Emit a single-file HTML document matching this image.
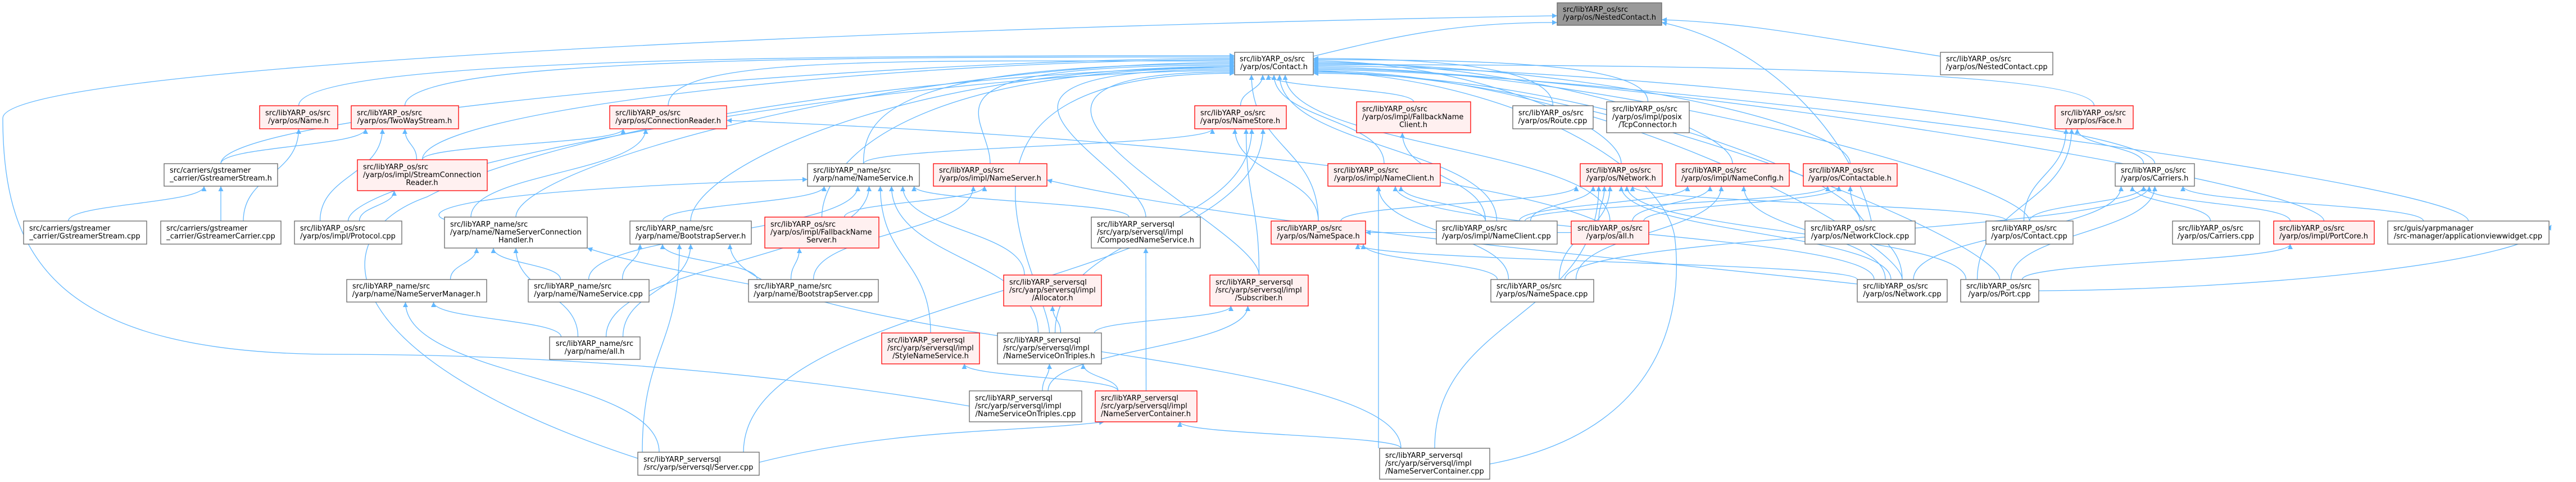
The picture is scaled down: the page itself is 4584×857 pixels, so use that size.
<!DOCTYPE html>
<html><head><meta charset="utf-8">
<style>
html,body{margin:0;padding:0;background:#fff;}
svg{display:block;}
text{font-family:"DejaVu Sans","Liberation Sans",sans-serif;font-size:13px;fill:#000;}
.w{fill:#fff;stroke:#666;stroke-width:1.3;}
.r{fill:#fff0f0;stroke:#f00;stroke-width:1.3;}
.g{fill:#999;stroke:#666;stroke-width:1.3;}
.e{fill:none;stroke:#63b8ff;stroke-width:1.3;}
</style></head><body>
<svg id="s" width="4584" height="857" viewBox="0 0 4584 857" xmlns="http://www.w3.org/2000/svg">
<defs><marker id="a" viewBox="0 0 10 10" refX="10" refY="5" markerWidth="11" markerHeight="9" markerUnits="userSpaceOnUse" orient="auto"><path d="M0,0 L10,5 L0,10 z" fill="#63b8ff"/></marker></defs>
<g id="edges"></g>
<g id="nodes">
<rect class="g" x="2771" y="5" width="186" height="40"/><text x="2781" y="21">src/libYARP_os/src</text><text x="2864" y="35" text-anchor="middle">/yarp/os/NestedContact.h</text>
<rect class="w" x="2197" y="93" width="140" height="40"/><text x="2206" y="109">src/libYARP_os/src</text><text x="2267" y="123" text-anchor="middle">/yarp/os/Contact.h</text>
<rect class="w" x="3453" y="93" width="200" height="40"/><text x="3463" y="109">src/libYARP_os/src</text><text x="3553" y="123" text-anchor="middle">/yarp/os/NestedContact.cpp</text>

<rect class="r" x="462" y="188" width="139" height="41"/><text x="472" y="205">src/libYARP_os/src</text><text x="531" y="219" text-anchor="middle">/yarp/os/Name.h</text>
<rect class="r" x="625" y="188" width="191" height="41"/><text x="635" y="205">src/libYARP_os/src</text><text x="720" y="219" text-anchor="middle">/yarp/os/TwoWayStream.h</text>
<rect class="r" x="1085" y="188" width="208" height="41"/><text x="1095" y="205">src/libYARP_os/src</text><text x="1189" y="219" text-anchor="middle">/yarp/os/ConnectionReader.h</text>
<rect class="r" x="2126" y="188" width="163" height="41"/><text x="2136" y="205">src/libYARP_os/src</text><text x="2207" y="219" text-anchor="middle">/yarp/os/NameStore.h</text>
<rect class="r" x="2414" y="181" width="203" height="55"/><text x="2424" y="198">src/libYARP_os/src</text><text x="2424" y="212">/yarp/os/impl/FallbackName</text><text x="2515" y="226" text-anchor="middle">Client.h</text>
<rect class="w" x="2692" y="188" width="143" height="41"/><text x="2702" y="205">src/libYARP_os/src</text><text x="2763" y="219" text-anchor="middle">/yarp/os/Route.cpp</text>
<rect class="w" x="2859" y="181" width="147" height="55"/><text x="2869" y="198">src/libYARP_os/src</text><text x="2869" y="212">/yarp/os/impl/posix</text><text x="2932" y="226" text-anchor="middle">/TcpConnector.h</text>
<rect class="r" x="3657" y="188" width="139" height="41"/><text x="3667" y="205">src/libYARP_os/src</text><text x="3726" y="219" text-anchor="middle">/yarp/os/Face.h</text>

<rect class="w" x="292" y="291" width="202" height="40"/><text x="302" y="307">src/carriers/gstreamer</text><text x="393" y="321" text-anchor="middle">_carrier/GstreamerStream.h</text>
<rect class="r" x="636" y="284" width="231" height="55"/><text x="646" y="301">src/libYARP_os/src</text><text x="646" y="315">/yarp/os/impl/StreamConnection</text><text x="751" y="329" text-anchor="middle">Reader.h</text>
<rect class="w" x="1437" y="291" width="199" height="40"/><text x="1447" y="307">src/libYARP_name/src</text><text x="1536" y="321" text-anchor="middle">/yarp/name/NameService.h</text>
<rect class="r" x="1661" y="291" width="202" height="40"/><text x="1671" y="307">src/libYARP_os/src</text><text x="1762" y="321" text-anchor="middle">/yarp/os/impl/NameServer.h</text>
<rect class="r" x="2363" y="291" width="200" height="40"/><text x="2373" y="307">src/libYARP_os/src</text><text x="2463" y="321" text-anchor="middle">/yarp/os/impl/NameClient.h</text>
<rect class="r" x="2812" y="291" width="146" height="40"/><text x="2822" y="307">src/libYARP_os/src</text><text x="2885" y="321" text-anchor="middle">/yarp/os/Network.h</text>
<rect class="r" x="2982" y="291" width="202" height="40"/><text x="2992" y="307">src/libYARP_os/src</text><text x="3083" y="321" text-anchor="middle">/yarp/os/impl/NameConfig.h</text>
<rect class="r" x="3209" y="291" width="167" height="40"/><text x="3219" y="307">src/libYARP_os/src</text><text x="3292" y="321" text-anchor="middle">/yarp/os/Contactable.h</text>
<rect class="w" x="3764" y="291" width="141" height="40"/><text x="3774" y="307">src/libYARP_os/src</text><text x="3834" y="321" text-anchor="middle">/yarp/os/Carriers.h</text>

<rect class="w" x="42" y="393" width="219" height="41"/><text x="52" y="410">src/carriers/gstreamer</text><text x="151" y="424" text-anchor="middle">_carrier/GstreamerStream.cpp</text>
<rect class="w" x="286" y="393" width="214" height="41"/><text x="296" y="410">src/carriers/gstreamer</text><text x="393" y="424" text-anchor="middle">_carrier/GstreamerCarrier.cpp</text>
<rect class="w" x="524" y="393" width="191" height="41"/><text x="534" y="410">src/libYARP_os/src</text><text x="619" y="424" text-anchor="middle">/yarp/os/impl/Protocol.cpp</text>
<rect class="w" x="791" y="386" width="254" height="55"/><text x="801" y="403">src/libYARP_name/src</text><text x="801" y="417">/yarp/name/NameServerConnection</text><text x="918" y="431" text-anchor="middle">Handler.h</text>
<rect class="w" x="1121" y="393" width="216" height="41"/><text x="1131" y="410">src/libYARP_name/src</text><text x="1229" y="424" text-anchor="middle">/yarp/name/BootstrapServer.h</text>
<rect class="r" x="1361" y="386" width="203" height="55"/><text x="1371" y="403">src/libYARP_os/src</text><text x="1371" y="417">/yarp/os/impl/FallbackName</text><text x="1462" y="431" text-anchor="middle">Server.h</text>
<rect class="w" x="1942" y="386" width="194" height="55"/><text x="1952" y="403">src/libYARP_serversql</text><text x="1952" y="417">/src/yarp/serversql/impl</text><text x="2039" y="431" text-anchor="middle">/ComposedNameService.h</text>
<rect class="r" x="2262" y="393" width="168" height="41"/><text x="2272" y="410">src/libYARP_os/src</text><text x="2346" y="424" text-anchor="middle">/yarp/os/NameSpace.h</text>
<rect class="w" x="2556" y="393" width="215" height="41"/><text x="2566" y="410">src/libYARP_os/src</text><text x="2663" y="424" text-anchor="middle">/yarp/os/impl/NameClient.cpp</text>
<rect class="r" x="2796" y="393" width="138" height="41"/><text x="2865" y="410" text-anchor="middle">src/libYARP_os/src</text><text x="2865" y="424" text-anchor="middle">/yarp/os/all.h</text>
<rect class="w" x="3212" y="393" width="196" height="41"/><text x="3222" y="410">src/libYARP_os/src</text><text x="3310" y="424" text-anchor="middle">/yarp/os/NetworkClock.cpp</text>
<rect class="w" x="3534" y="393" width="155" height="41"/><text x="3544" y="410">src/libYARP_os/src</text><text x="3611" y="424" text-anchor="middle">/yarp/os/Contact.cpp</text>
<rect class="w" x="3866" y="393" width="155" height="41"/><text x="3876" y="410">src/libYARP_os/src</text><text x="3943" y="424" text-anchor="middle">/yarp/os/Carriers.cpp</text>
<rect class="r" x="4046" y="393" width="179" height="41"/><text x="4056" y="410">src/libYARP_os/src</text><text x="4135" y="424" text-anchor="middle">/yarp/os/impl/PortCore.h</text>
<rect class="w" x="4249" y="393" width="287" height="41"/><text x="4259" y="410">src/guis/yarpmanager</text><text x="4392" y="424" text-anchor="middle">/src-manager/applicationviewwidget.cpp</text>

<rect class="w" x="617" y="497" width="249" height="40"/><text x="627" y="513">src/libYARP_name/src</text><text x="741" y="527" text-anchor="middle">/yarp/name/NameServerManager.h</text>
<rect class="w" x="940" y="497" width="215" height="40"/><text x="950" y="513">src/libYARP_name/src</text><text x="1047" y="527" text-anchor="middle">/yarp/name/NameService.cpp</text>
<rect class="w" x="1332" y="497" width="231" height="40"/><text x="1342" y="513">src/libYARP_name/src</text><text x="1447" y="527" text-anchor="middle">/yarp/name/BootstrapServer.cpp</text>
<rect class="r" x="1786" y="489" width="174" height="55"/><text x="1796" y="506">src/libYARP_serversql</text><text x="1796" y="520">/src/yarp/serversql/impl</text><text x="1873" y="534" text-anchor="middle">/Allocator.h</text>
<rect class="r" x="2153" y="489" width="175" height="55"/><text x="2163" y="506">src/libYARP_serversql</text><text x="2163" y="520">/src/yarp/serversql/impl</text><text x="2240" y="534" text-anchor="middle">/Subscriber.h</text>
<rect class="w" x="2653" y="497" width="183" height="40"/><text x="2663" y="513">src/libYARP_os/src</text><text x="2744" y="527" text-anchor="middle">/yarp/os/NameSpace.cpp</text>
<rect class="w" x="3305" y="497" width="160" height="40"/><text x="3315" y="513">src/libYARP_os/src</text><text x="3385" y="527" text-anchor="middle">/yarp/os/Network.cpp</text>
<rect class="w" x="3489" y="497" width="139" height="40"/><text x="3499" y="513">src/libYARP_os/src</text><text x="3558" y="527" text-anchor="middle">/yarp/os/Port.cpp</text>

<rect class="w" x="978" y="599" width="161" height="40"/><text x="1058" y="615" text-anchor="middle">src/libYARP_name/src</text><text x="1058" y="629" text-anchor="middle">/yarp/name/all.h</text>
<rect class="r" x="1569" y="592" width="174" height="55"/><text x="1579" y="609">src/libYARP_serversql</text><text x="1579" y="623">/src/yarp/serversql/impl</text><text x="1656" y="637" text-anchor="middle">/StyleNameService.h</text>
<rect class="w" x="1775" y="592" width="185" height="55"/><text x="1785" y="609">src/libYARP_serversql</text><text x="1785" y="623">/src/yarp/serversql/impl</text><text x="1867" y="637" text-anchor="middle">/NameServiceOnTriples.h</text>
<rect class="w" x="1725" y="695" width="200" height="55"/><text x="1735" y="712">src/libYARP_serversql</text><text x="1735" y="726">/src/yarp/serversql/impl</text><text x="1825" y="740" text-anchor="middle">/NameServiceOnTriples.cpp</text>
<rect class="r" x="1949" y="695" width="181" height="55"/><text x="1959" y="712">src/libYARP_serversql</text><text x="1959" y="726">/src/yarp/serversql/impl</text><text x="2039" y="740" text-anchor="middle">/NameServerContainer.h</text>
<rect class="w" x="1135" y="804" width="216" height="41"/><text x="1145" y="821">src/libYARP_serversql</text><text x="1243" y="835" text-anchor="middle">/src/yarp/serversql/Server.cpp</text>
<rect class="w" x="2455" y="797" width="196" height="55"/><text x="2465" y="814">src/libYARP_serversql</text><text x="2465" y="828">/src/yarp/serversql/impl</text><text x="2553" y="842" text-anchor="middle">/NameServerContainer.cpp</text>
</g>
</svg>
<script>
(function(){
var N={
NC:[2771,5,186,40],C:[2197,93,140,40],NCc:[3453,93,200,40],
Name:[462,188,139,41],TW:[625,188,191,41],CR:[1085,188,208,41],NSt:[2126,188,163,41],FNC:[2414,181,203,55],Route:[2692,188,143,41],Tcp:[2859,181,147,55],Face:[3657,188,139,41],
GSh:[292,291,202,40],SCR:[636,284,231,55],NSvh:[1437,291,199,40],NSrv:[1661,291,202,40],NClh:[2363,291,200,40],Neth:[2812,291,146,40],NCfg:[2982,291,202,40],Ctb:[3209,291,167,40],Car:[3764,291,141,40],
GSc:[42,393,219,41],GCc:[286,393,214,41],Prot:[524,393,191,41],NSCH:[791,386,254,55],BSh:[1121,393,216,41],FNS:[1361,386,203,55],CNS:[1942,386,194,55],NSph:[2262,393,168,41],NClc:[2556,393,215,41],OSall:[2796,393,138,41],NClk:[3212,393,196,41],Cc:[3534,393,155,41],Carc:[3866,393,155,41],PC:[4046,393,179,41],AV:[4249,393,287,41],
NSM:[617,497,249,40],NSvc:[940,497,215,40],BSc:[1332,497,231,40],Alloc:[1786,489,174,55],Sub:[2153,489,175,55],NSpc:[2653,497,183,40],Netc:[3305,497,160,40],Portc:[3489,497,139,40],
Nall:[978,599,161,40],Style:[1569,592,174,55],OTh:[1775,592,185,55],OTc:[1725,695,200,55],NSCh:[1949,695,181,55],Srv:[1135,804,216,41],NSCc:[2455,797,196,55]};
var G=document.getElementById('edges');
var NS='http://www.w3.org/2000/svg';
function tp(n,dx){var b=N[n];return [b[0]+b[2]/2+(dx||0),b[1]];}
function bt(n,dx){var b=N[n];return [b[0]+b[2]/2+(dx||0),b[1]+b[3]];}
function p(d){var e=document.createElementNS(NS,'path');e.setAttribute('class','e');e.setAttribute('d',d);e.setAttribute('marker-end','url(#a)');G.appendChild(e);}
function E(s,t,sdx,tdx){var a=tp(s,sdx),b=bt(t,tdx);
 if(a[1]<=b[1]+5){
  var sb=N[s],tb=N[t];var ax,bx,ay=sb[1]+sb[3]/2,by=tb[1]+tb[3]/2;
  if(sb[0]>tb[0]){ax=sb[0];bx=tb[0]+tb[2];}else{ax=sb[0]+sb[2];bx=tb[0];}
  p('M'+ax+','+ay+' C'+(ax+bx)/2+','+ay+' '+(ax+bx)/2+','+by+' '+bx+','+by);return;}
 var m=(a[1]+b[1])/2;
 p('M'+a[0]+','+a[1]+' C'+a[0]+','+m+' '+b[0]+','+m+' '+b[0]+','+b[1]);}
var leftC=['Name','TW','GSh','SCR','CR','NSCH','NSvh','NSrv','BSh','FNS','CNS','Prot','Sub','OTh'];
leftC.forEach(function(s,i){var a=tp(s);var ty=99+i*2.4;var tx=2197;
 p('M'+a[0]+','+a[1]+' C'+a[0]+','+(a[1]-90)+' '+(tx-600)+','+ty+' '+tx+','+ty);});
var botC=[['NSt',-20],['NSph',-40],['FNC',-10],['NClh',0],['NClc',10],['OSall',20]];
botC.forEach(function(q){var a=tp(q[0]);var b=bt('C',q[1]);var m=(a[1]+b[1])/2;
 p('M'+a[0]+','+a[1]+' C'+a[0]+','+m+' '+b[0]+','+m+' '+b[0]+','+b[1]);});
var rightC=['Route','Tcp','Neth','NCfg','Ctb','Face','Car','Cc','PC','AV','Netc','Portc','NClk'];
rightC.forEach(function(s,i){var a=tp(s);var ty=104+i*2.2;var tx=2337;
 p('M'+a[0]+','+a[1]+' C'+a[0]+','+(a[1]-70)+' '+(tx+Math.min(500,(a[0]-tx)*0.5))+','+ty+' '+tx+','+ty);});
p('M1135,815 C600,640 560,420 760,350 C950,250 1500,135 2197,118');
p('M2651,825 C3000,760 2990,500 2980,420 C2960,300 2700,140 2337,126');
p('M2337,100 C2500,60 2600,40 2771,40');
p('M3453,100 C3200,60 3100,40 2957,35');
p('M3330,393 C3300,250 3150,80 2957,40');
p('M1725,722 C1300,650 900,630 600,630 C100,630 5,460 5,210 C5,120 1500,50 2771,28');
E('GCc','Name',40,0);
E('GSh','TW',0,-70);E('Prot','TW',-50,-40);E('SCR','TW',-10,0);
E('GSc','GSh',-30,-30);E('GCc','GSh',0,0);
E('Prot','SCR',20,-50);
E('SCR','CR',0,-80);E('NSCH','CR',-80,-40);
p('M2842,393 C2700,330 2200,250 1293,214');
E('NSM','NSCH',60,-70);E('NSvc','NSCH',-50,-40);E('Nall','NSCH',-30,0);
p('M1332,505 C1200,480 1100,460 1045,441');
E('Nall','NSM',-60,30);E('Srv','NSM',-70,-20);
p('M791,390 C760,380 760,340 1437,319');
E('BSh','NSvh',-50,-70);E('NSvc','NSvh',0,-10);E('Nall','NSvh',20,10);E('CNS','NSvh',-30,90);E('OTh','NSvh',-20,50);E('Style','NSvh',0,30);E('Alloc','NSvh',-50,70);
E('NSvh','NSt',0,-50);E('NSph','NSt',0,-10);E('Sub','NSt',0,10);E('OTh','NSt',10,20);E('Srv','NSt',80,40);
E('BSc','NSrv',0,-30);E('FNS','NSrv',40,-10);
p('M3305,505 C3000,470 2200,400 1863,320');
E('BSc','BSh',-100,-50);E('Srv','BSh',-100,-20);E('Nall','BSh',50,0);E('NSCc','BSh',-60,70);E('NSvc','BSh',60,-90);
E('BSc','FNS',-40,-40);
E('NSCh','CNS',0,0);
E('OTh','Alloc',20,0);
E('OTh','Sub',80,-50);E('OTc','Sub',40,-20);
E('NSCh','Style',-50,60);
E('OTc','OTh',30,0);E('NSCh','OTh',-50,60);
p('M1351,822 C1600,760 1800,770 1965,750');E('NSCc','NSCh',-60,60);
E('NSpc','NSph',-80,80);E('Netc','NSph',-80,70);E('OSall','NSph',-50,80);
E('NClc','FNC',-20,-20);
E('NClc','NClh',-20,30);E('NSpc','NClh',-60,-10);E('Netc','NClh',-50,20);E('NSCc','NClh',-100,-10);
E('NSph','Neth',40,-80);E('NClc','Neth',60,-50);E('OSall','Neth',-20,-30);E('Netc','Neth',-20,0);E('NSCc','Neth',0,-40);E('Portc','Neth',-60,10);E('NSpc','Neth',30,-20);E('Cc','Neth',-40,20);
E('NClc','NCfg',40,-80);E('OSall','NCfg',40,-40);E('Netc','NCfg',-30,20);E('NSpc','NCfg',60,-20);
E('NClc','Ctb',50,-40);E('Netc','Ctb',0,0);E('OSall','Ctb',60,-20);
E('Portc','Face',-40,-40);E('Car','Face',-20,-30);E('Cc','Face',-10,-50);
E('Carc','Car',-10,-40);E('PC','Car',-60,-20);E('AV','Car',-80,50);E('Cc','Car',0,-20);E('Netc','Car',20,-60);E('Portc','Car',20,0);E('NSpc','Car',40,-10);
E('Portc','PC',40,-60);
p('M3628,517 C4000,515 4500,470 4540,400');
})();
</script>
</body></html>
